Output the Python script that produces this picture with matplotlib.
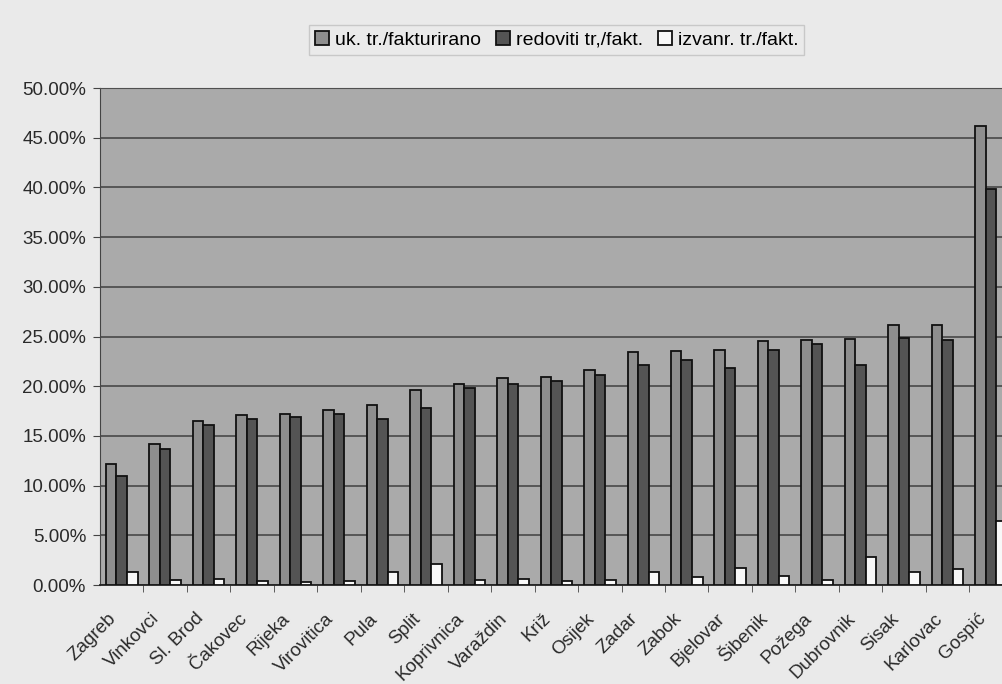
import numpy as np
import matplotlib.pyplot as plt
import matplotlib.transforms as mtransforms
from matplotlib.ticker import MultipleLocator, FuncFormatter

# data (percent)
cities = ['Zagreb', 'Vinkovci', 'Sl. Brod', 'Čakovec', 'Rijeka', 'Virovitica', 'Pula',
          'Split', 'Koprivnica', 'Varaždin', 'Križ', 'Osijek', 'Zadar', 'Zabok',
          'Bjelovar', 'Šibenik', 'Požega', 'Dubrovnik', 'Sisak', 'Karlovac', 'Gospić']
uk_fakt = [12.2, 14.2, 16.5, 17.1, 17.2, 17.6, 18.1, 19.6, 20.2, 20.8, 20.9,
           21.6, 23.4, 23.5, 23.6, 24.5, 24.7, 24.8, 26.2, 26.2, 46.2]
redoviti = [11.0, 13.7, 16.1, 16.7, 16.9, 17.2, 16.7, 17.8, 19.8, 20.2, 20.5,
            21.1, 22.1, 22.6, 21.8, 23.6, 24.2, 22.1, 24.9, 24.7, 39.8]
izvanr = [1.3, 0.5, 0.65, 0.45, 0.3, 0.45, 1.3, 2.1, 0.5, 0.65, 0.45,
          0.5, 1.35, 0.85, 1.75, 0.95, 0.55, 2.85, 1.3, 1.65, 6.4]
series_names = ['uk. tr./fakturirano', 'redoviti tr,/fakt.', 'izvanr. tr./fakt.']

plt.rcParams['font.family'] = ['Liberation Sans', 'DejaVu Sans']

fig = plt.figure(figsize=(10.03, 6.84), dpi=100, facecolor='#eaeaea')
ax = fig.add_axes([0.0997, 0.1447, 0.910, 0.7266])
ax.set_facecolor('#aaaaaa')

x = np.arange(len(cities))
w = 0.242
ax.bar(x - w, uk_fakt, w, color='#8e8e8e', edgecolor='#111111', lw=1.3,
       label=series_names[0], zorder=3)
ax.bar(x, redoviti, w, color='#545454', edgecolor='#111111', lw=1.3,
       label=series_names[1], zorder=3)
ax.bar(x + w, izvanr, w, color='#f8f8f8', edgecolor='#111111', lw=1.3,
       label=series_names[2], zorder=3)

ax.set_xlim(-0.5, len(cities) - 0.5)
ax.set_ylim(0, 50)
ax.yaxis.set_major_locator(MultipleLocator(5))
ax.yaxis.set_major_formatter(FuncFormatter(lambda v, p: f'{v:.2f}%'))
ax.grid(axis='y', color='#505050', lw=1.3, zorder=1)

ax.set_xticks(x)
ax.set_xticks(x[:-1] + 0.5, minor=True)
ax.tick_params(axis='x', which='major', length=0, pad=18)
ax.tick_params(axis='x', which='minor', length=5, color='#444444')
ax.tick_params(axis='y', length=5, color='#444444', labelsize=13.5,
               labelcolor='#2a2a2a', pad=5)
ax.set_xticklabels(cities, rotation=45, ha='right', va='top',
                   rotation_mode='anchor', fontsize=13.5, color='#2a2a2a')
# shift the rotated labels left, as in the original (after tick_params!)
shift = mtransforms.ScaledTranslation(-14 / 100, 0, fig.dpi_scale_trans)
for lab in ax.get_xticklabels():
    lab.set_transform(lab.get_transform() + shift)

ax.spines['right'].set_visible(False)
ax.spines['top'].set_color('#505050')
ax.spines['left'].set_color('#444444')
ax.spines['bottom'].set_color('#222222')
ax.spines['bottom'].set_linewidth(1.3)

leg = fig.legend(loc='center', bbox_to_anchor=(0.555, 0.9415), ncol=3,
                 fontsize=14, frameon=True, fancybox=False,
                 handlelength=0.7, handleheight=0.7, handletextpad=0.3,
                 columnspacing=0.8, borderpad=0.3)
leg.get_frame().set_edgecolor('#c0c0c0')
leg.get_frame().set_facecolor('#eaeaea')

fig.savefig('out.png', dpi=100, facecolor=fig.get_facecolor())
